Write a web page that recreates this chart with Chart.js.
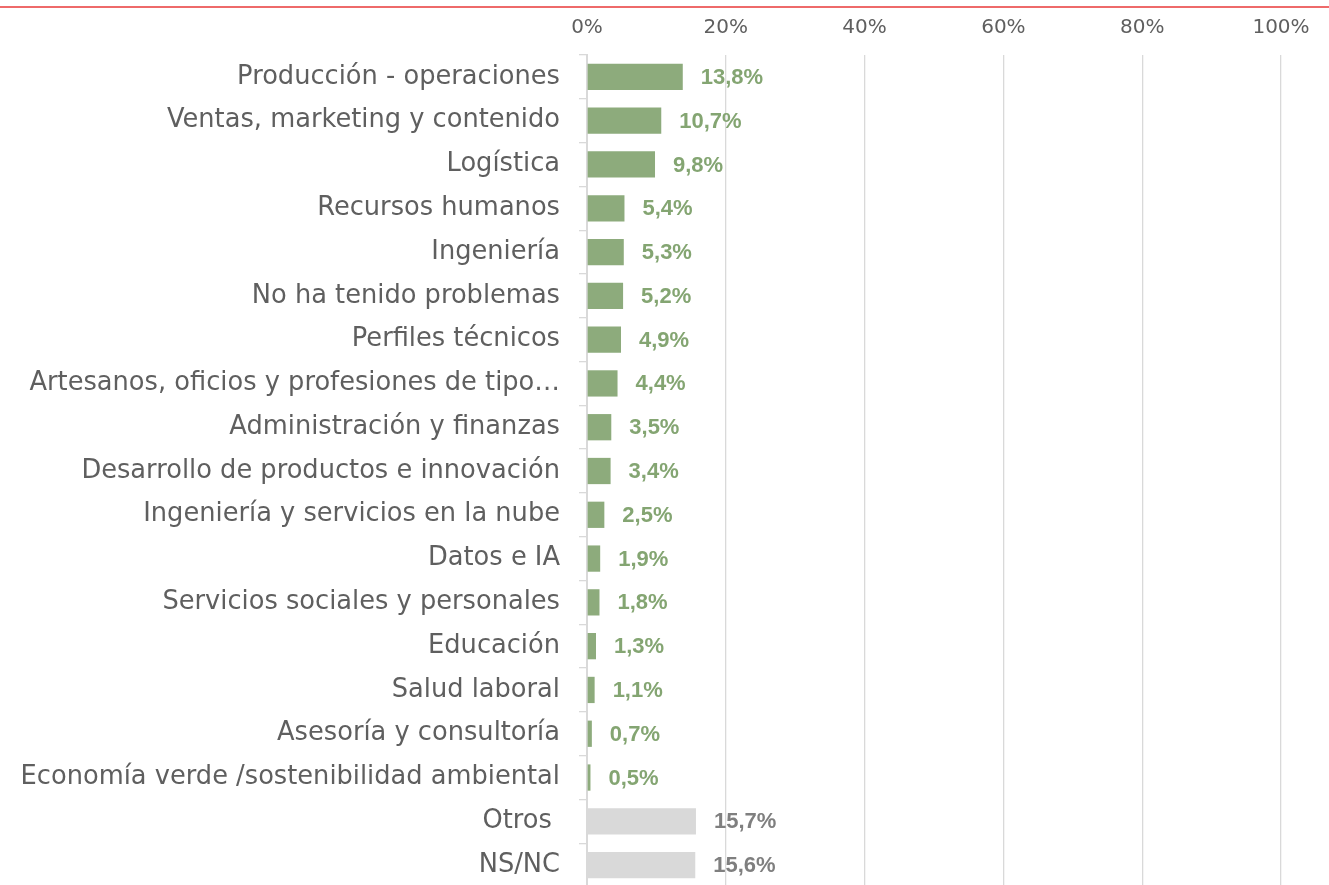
<!DOCTYPE html>
<html>
<head>
<meta charset="utf-8">
<script src="https://cdn.jsdelivr.net/npm/chart.js@4/dist/chart.umd.min.js"></script>
<style>
  html, body { margin: 0; padding: 0; background: #ffffff; overflow: hidden; }
  #wrap { position: relative; width: 1329px; height: 887px; }
  #topline { position: absolute; left: 0; top: 6px; width: 1329px; height: 2px; background: #ee6a6a; }
  #c { position: absolute; left: 0; top: 0; }
</style>
</head>
<body>
<div id="wrap">
  <canvas id="c" width="1329" height="887"></canvas>
  <div id="topline"></div>
</div>
<script>
const categories = [
  'Producción - operaciones',
  'Ventas, marketing y contenido',
  'Logística',
  'Recursos humanos',
  'Ingeniería',
  'No ha tenido problemas',
  'Perfiles técnicos',
  'Artesanos, oficios y profesiones de tipo…',
  'Administración y finanzas',
  'Desarrollo de productos e innovación',
  'Ingeniería y servicios en la nube',
  'Datos e IA',
  'Servicios sociales y personales',
  'Educación',
  'Salud laboral',
  'Asesoría y consultoría',
  'Economía verde /sostenibilidad ambiental',
  'Otros ',
  'NS/NC'
];
const values = [13.8, 10.7, 9.8, 5.4, 5.3, 5.2, 4.9, 4.4, 3.5, 3.4, 2.5, 1.9, 1.8, 1.3, 1.1, 0.7, 0.5, 15.7, 15.6];
const groups = ['area','area','area','area','area','area','area','area','area','area','area','area','area','area','area','area','area','other','other'];
const tickValues = [0, 20, 40, 60, 80, 100];
const tickLabels = ['0%', '20%', '40%', '60%', '80%', '100%'];

const FONT = "'DejaVu Sans', sans-serif";
const VALUE_FONT = "bold 22px 'Liberation Sans', Arial, sans-serif";
const barColor = { area: '#8dab7c', other: '#d9d9d9' };
const labelColor = { area: '#84a572', other: '#7f7f7f' };

// fit category label font size to reference text width
const mctx = document.createElement('canvas').getContext('2d');
mctx.font = "100px 'DejaVu Sans'";
const refW = mctx.measureText('Economía verde /sostenibilidad ambiental').width;
const catSize = Math.round(100 * 540 / refW * 10) / 10;

Chart.defaults.font.family = FONT;

const fmt = v => v.toFixed(1).replace('.', ',') + '%';

const valueLabels = {
  id: 'valueLabels',
  afterDatasetsDraw(chart) {
    const ctx = chart.ctx;
    const meta = chart.getDatasetMeta(0);
    ctx.save();
    ctx.font = VALUE_FONT;
    ctx.textBaseline = 'middle';
    ctx.textAlign = 'left';
    meta.data.forEach((bar, i) => {
      ctx.fillStyle = labelColor[groups[i]];
      ctx.fillText(fmt(values[i]), bar.x + 18, bar.y + 1);
    });
    ctx.restore();
  }
};

new Chart(document.getElementById('c'), {
  type: 'bar',
  data: {
    labels: categories,
    datasets: [{
      data: values,
      backgroundColor: groups.map(g => barColor[g]),
      borderWidth: 0,
      categoryPercentage: 1,
      barPercentage: 0.6
    }]
  },
  options: {
    indexAxis: 'y',
    responsive: false,
    animation: false,
    devicePixelRatio: 1,
    layout: { padding: { top: 1, right: 48, left: 0, bottom: 0 } },
    plugins: { legend: { display: false }, tooltip: { enabled: false } },
    scales: {
      x: {
        position: 'top',
        min: 0,
        max: 100,
        afterBuildTicks(scale) { scale.ticks = tickValues.map(v => ({ value: v })); },
        afterFit(scale) { scale.paddingLeft = 0; scale.paddingRight = 0; },
        ticks: {
          callback: (v) => tickLabels[tickValues.indexOf(v)],
          color: '#5f5f5f',
          font: { size: 20 },
          padding: 15,
          maxRotation: 0
        },
        grid: { color: '#d9d9d9', lineWidth: 1.3, drawTicks: false },
        border: { display: false }
      },
      y: {
        afterFit(scale) { scale.width = 587; scale.paddingTop = 0; scale.paddingBottom = 0; },
        ticks: {
          color: '#5f5f5f',
          font: { size: catSize },
          padding: 19,
          autoSkip: false
        },
        grid: { display: true, drawOnChartArea: false, drawTicks: true, tickLength: 8, color: '#d9d9d9', lineWidth: 1.3, offset: true },
        border: { display: true, color: '#d9d9d9', width: 2 }
      }
    }
  },
  plugins: [valueLabels]
});
</script>
</body>
</html>
